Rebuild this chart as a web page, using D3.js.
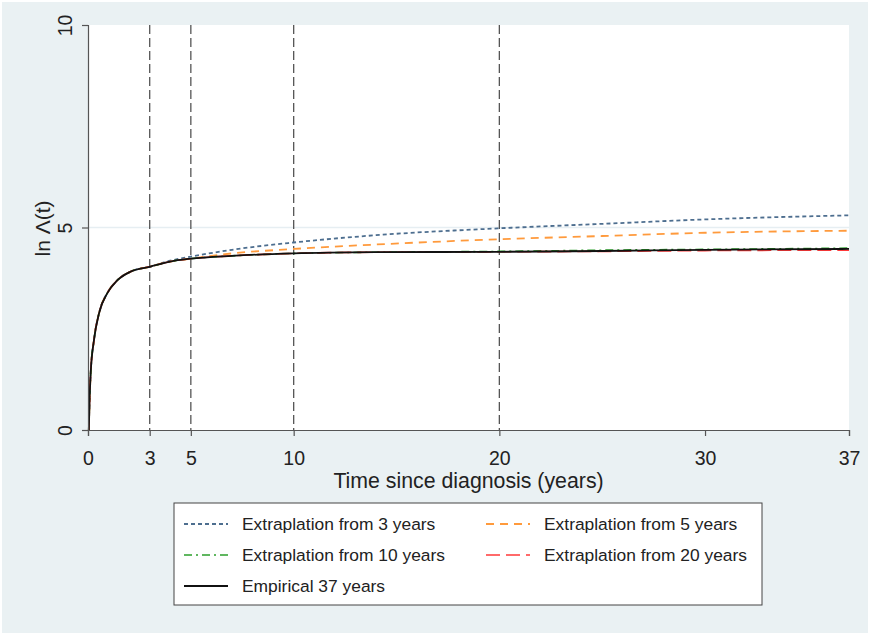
<!DOCTYPE html>
<html><head><meta charset="utf-8">
<script src="https://cdn.jsdelivr.net/npm/d3@7/dist/d3.min.js"></script>
<style>body{margin:0;background:#fff}svg{display:block}text{font-family:"Liberation Sans",Arial,sans-serif;fill:#222}</style>
</head><body><svg id="c" width="870" height="635"></svg>
<script>
const times = [0.04, 0.08, 0.13, 0.29, 0.54, 0.94, 1.43, 2.07, 3, 4, 5, 7, 10, 14, 20, 25, 30, 37];
const empirical = [0, 0.8, 1.4, 2.22, 2.89, 3.38, 3.70, 3.91, 4.03, 4.16, 4.23, 4.30, 4.36, 4.39, 4.40, 4.42, 4.45, 4.47];
const extrap3  = [0, 0.8, 1.4, 2.22, 2.89, 3.38, 3.70, 3.91, 4.03, 4.18, 4.28, 4.45, 4.63, 4.81, 4.98, 5.09, 5.20, 5.30];
const extrap5  = [0, 0.8, 1.4, 2.22, 2.89, 3.38, 3.70, 3.91, 4.03, 4.16, 4.23, 4.36, 4.47, 4.58, 4.71, 4.79, 4.87, 4.92];
const extrap10 = [0, 0.8, 1.4, 2.22, 2.89, 3.38, 3.70, 3.91, 4.03, 4.16, 4.23, 4.30, 4.36, 4.39, 4.41, 4.44, 4.46, 4.49];
const extrap20 = [0, 0.8, 1.4, 2.22, 2.89, 3.38, 3.70, 3.91, 4.03, 4.16, 4.23, 4.30, 4.36, 4.39, 4.40, 4.41, 4.43, 4.44];
const cutoffs = [3, 5, 10, 20];
const xTicks = [0, 3, 5, 10, 20, 30, 37];
const yTicks = [0, 5, 10];
const seriesNames = ["Extraplation from 3 years", "Extraplation from 5 years", "Extraplation from 10 years", "Extraplation from 20 years", "Empirical 37 years"];

const series = [
  {name: seriesNames[0], v: extrap3,  color: "#4d6e8f", dash: "4,3", w: 1.8},
  {name: seriesNames[1], v: extrap5,  color: "#ff9a3c", dash: "8,6", w: 1.8},
  {name: seriesNames[2], v: extrap10, color: "#2ca02c", dash: "8,4,2,4", w: 1.6},
  {name: seriesNames[3], v: extrap20, color: "#ff3a3a", dash: "14,6", w: 1.6},
  {name: seriesNames[4], v: empirical, color: "#111", dash: null, w: 1.8}
];

const svg = d3.select("#c");
svg.append("rect").attr("width", 870).attr("height", 635).attr("fill", "#fff");
svg.append("rect").attr("x", 2).attr("y", 2).attr("width", 866).attr("height", 631).attr("fill", "#eaf1f3");

const L = 88, R = 849, T = 25, B = 430;
const x = d3.scaleLinear().domain([0, 37]).range([L, R]);
const y = d3.scaleLinear().domain([0, 10]).range([B, T]);

svg.append("rect").attr("x", L).attr("y", T).attr("width", R - L).attr("height", B - T).attr("fill", "#fff");

// gridline
svg.append("line").attr("x1", L).attr("x2", R).attr("y1", y(5)).attr("y2", y(5))
  .attr("stroke", "#e6eef2").attr("stroke-width", 1.5);

// cutoff lines
svg.selectAll(".vl").data(cutoffs).join("line")
  .attr("x1", d => x(d)).attr("x2", d => x(d)).attr("y1", T).attr("y2", B)
  .attr("stroke", "#555").attr("stroke-width", 1.3).attr("stroke-dasharray", "9,4");

const line = d3.line().x((d, i) => x(times[i])).y(d => y(d)).curve(d3.curveMonotoneX);
series.forEach(s => {
  svg.append("path").attr("d", line(s.v)).attr("fill", "none")
    .attr("stroke", s.color).attr("stroke-width", s.w)
    .attr("stroke-dasharray", s.dash);
});

// axes
const xAxis = d3.axisBottom(x).tickValues(xTicks).tickSize(6).tickPadding(15).tickFormat(d3.format("d"));
const gx = svg.append("g").attr("transform", `translate(0,${B})`).call(xAxis);
gx.select(".domain").attr("stroke", "#555").attr("stroke-width", 1.2);
gx.selectAll(".tick line").attr("stroke", "#555").attr("stroke-width", 1.2);
gx.selectAll("text").attr("font-size", 19.5).style("font-family", "Liberation Sans, Arial, sans-serif").attr("fill", "#222");

const yAxis = d3.axisLeft(y).tickValues(yTicks).tickSize(6).tickPadding(0).tickFormat(d3.format("d"));
const gy = svg.append("g").attr("transform", `translate(${L},0)`).call(yAxis);
gy.select(".domain").attr("stroke", "#555").attr("stroke-width", 1.2);
gy.selectAll(".tick line").attr("stroke", "#555").attr("stroke-width", 1.2);
gy.selectAll("text").attr("font-size", 19.5).style("font-family", "Liberation Sans, Arial, sans-serif").attr("fill", "#222")
  .attr("x", null).attr("dy", null)
  .attr("transform", "translate(-16,0) rotate(-90)")
  .attr("text-anchor", "middle").attr("dominant-baseline", "auto").attr("y", 0);

svg.append("text").attr("x", (L + R) / 2).attr("y", 488).attr("text-anchor", "middle")
  .attr("font-size", 21.3).text("Time since diagnosis (years)");
svg.append("text").attr("transform", `translate(50,${y(5) + 1}) rotate(-90)`).attr("text-anchor", "middle")
  .attr("font-size", 21).text("ln Λ(t)");

// legend
const lg = svg.append("g");
lg.append("rect").attr("x", 174).attr("y", 503).attr("width", 588).attr("height", 102)
  .attr("fill", "#fff").attr("stroke", "#444").attr("stroke-width", 1);
const pos = [[184, 524], [486, 524], [184, 555], [486, 555], [184, 586]];
series.forEach((s, i) => {
  const [px, py] = pos[i];
  lg.append("line").attr("x1", px).attr("x2", px + 44).attr("y1", py).attr("y2", py)
    .attr("stroke", s.color).attr("stroke-width", s.w).attr("stroke-dasharray", s.dash);
  lg.append("text").attr("x", px + 58).attr("y", py + 6.3).attr("font-size", 17.4).text(s.name);
});
</script></body></html>
